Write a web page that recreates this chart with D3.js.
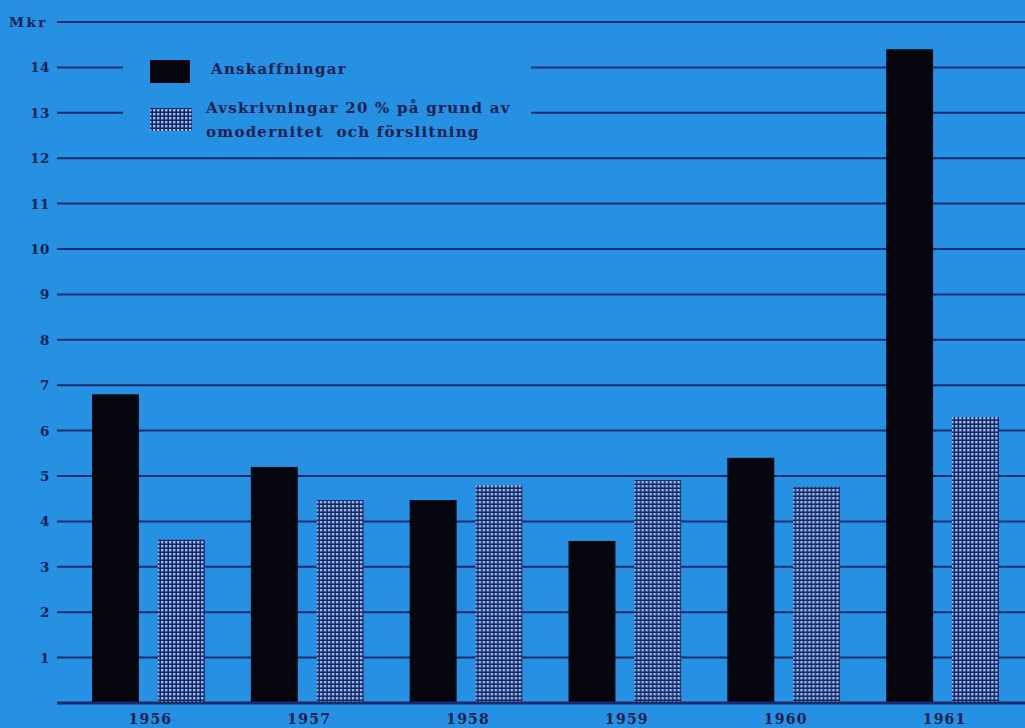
<!DOCTYPE html>
<meta charset="utf-8">
<script src="https://d3js.org/d3.v7.min.js"></script>
<style>
  body { margin: 0; background: #2690e2; }
  .lbl { font-family: "DejaVu Serif", serif; font-weight: bold; fill: #17204f; }
</style>
<div id="chart"></div>
<script>
// data (Mkr)
var years = ["1956", "1957", "1958", "1959", "1960", "1961"];
var anskaffningar = [6.8, 5.2, 4.47, 3.57, 5.4, 14.4];
var avskrivningar = [3.6, 4.47, 4.8, 4.91, 4.76, 6.3];
var yTicks = [1, 2, 3, 4, 5, 6, 7, 8, 9, 10, 11, 12, 13, 14];
var series = ["ansk", "avskr"];

var width = 1025, height = 728;
var bg = "#2690e2", lineCol = "#1a2a6c";

var svg = d3.select("#chart").append("svg")
  .attr("width", width).attr("height", height);

svg.append("rect").attr("width", width).attr("height", height).attr("fill", bg);

// hatch pattern for the depreciation bars
var defs = svg.append("defs");
var pat = defs.append("pattern").attr("id", "grid")
  .attr("patternUnits", "userSpaceOnUse").attr("width", 4).attr("height", 4);
pat.append("rect").attr("width", 4).attr("height", 4).attr("fill", "#1b2763");
pat.append("rect").attr("x", 1).attr("y", 1).attr("width", 2.4).attr("height", 2.4).attr("fill", "#93bff2");

var y = d3.scaleLinear().domain([0, 15]).range([703, 22]);

var x0 = d3.scaleBand().domain(years).range([69, 1022])
  .paddingInner(0.29).paddingOuter(0.145);
var x1 = d3.scaleBand().domain(series).range([0, x0.bandwidth()])
  .paddingInner(0.288);

// horizontal rules
var rules = svg.append("g");
rules.selectAll("line").data(yTicks.concat([15])).enter().append("line")
  .attr("x1", 57).attr("x2", width)
  .attr("y1", function(d) { return y(d); }).attr("y2", function(d) { return y(d); })
  .attr("stroke", lineCol).attr("stroke-width", 2);

// tick labels
svg.append("g").selectAll("text").data(yTicks).enter().append("text")
  .attr("class", "lbl")
  .attr("x", 50).attr("y", function(d) { return y(d) + 5; })
  .attr("text-anchor", "end").style("font-size", "13.5px")
  .style("letter-spacing", "0.5px")
  .text(function(d) { return d; });
svg.append("text").attr("class", "lbl")
  .attr("x", 9).attr("y", y(15) + 5).style("font-size", "13.5px")
  .style("letter-spacing", "2.5px")
  .text("Mkr");

// legend area clears the rules
svg.append("rect").attr("x", 123).attr("y", 48).attr("width", 408).attr("height", 92).attr("fill", bg);

// bars
var groups = svg.append("g").selectAll("g").data(years).enter().append("g")
  .attr("transform", function(d) { return "translate(" + x0(d) + ",0)"; });

groups.append("rect")
  .attr("x", x1("ansk")).attr("width", x1.bandwidth())
  .attr("y", function(d, i) { return y(anskaffningar[i]); })
  .attr("height", function(d, i) { return y(0) - y(anskaffningar[i]); })
  .attr("fill", "#06060f");

groups.append("rect")
  .attr("x", x1("avskr")).attr("width", x1.bandwidth())
  .attr("y", function(d, i) { return y(avskrivningar[i]); })
  .attr("height", function(d, i) { return y(0) - y(avskrivningar[i]); })
  .attr("fill", "url(#grid)");

// baseline
svg.append("line").attr("x1", 57).attr("x2", width)
  .attr("y1", y(0)).attr("y2", y(0))
  .attr("stroke", lineCol).attr("stroke-width", 3);

// year labels
groups.append("text").attr("class", "lbl")
  .attr("x", x0.bandwidth() / 2 + 2).attr("y", 724)
  .attr("text-anchor", "middle").style("font-size", "14px")
  .style("letter-spacing", "1.2px")
  .text(function(d) { return d; });

// legend
var legend = svg.append("g");
legend.append("rect").attr("x", 150).attr("y", 60).attr("width", 40).attr("height", 23).attr("fill", "#06060f");
legend.append("rect").attr("x", 150).attr("y", 108).attr("width", 42).attr("height", 23).attr("fill", "url(#grid)");
var legendText = [
  { x: 211, y: 74, t: "Anskaffningar" },
  { x: 206, y: 113, t: "Avskrivningar 20 % på grund av" },
  { x: 206, y: 137, t: "omodernitet  och förslitning" }
];
legend.selectAll("text.leg").data(legendText).enter().append("text")
  .attr("class", "lbl leg")
  .attr("x", function(d) { return d.x; }).attr("y", function(d) { return d.y; })
  .style("font-size", "15px").style("letter-spacing", "1.25px")
  .style("white-space", "pre")
  .text(function(d) { return d.t; });
</script>
